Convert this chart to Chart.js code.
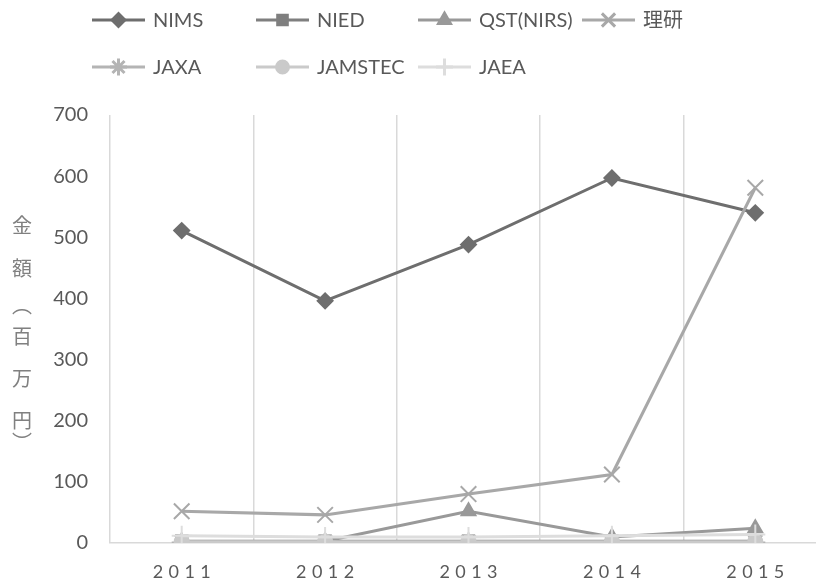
<!DOCTYPE html>
<html><head><meta charset="utf-8">
<script src="https://cdn.jsdelivr.net/npm/chart.js@4/dist/chart.umd.min.js"></script>
<style>
html,body{margin:0;padding:0;background:#fff;overflow:hidden;width:816px;height:583px;}
canvas{display:block;}
</style></head>
<body><canvas id="c" width="840" height="583" style="width:840px;height:583px"></canvas>
<script>
const years = ['2011','2012','2013','2014','2015'];
const seriesNames = ['NIMS','NIED','QST(NIRS)','理研','JAXA','JAMSTEC','JAEA'];
const nims    = [511, 396, 488, 597, 540];
const nied    = [3, 3, 3, 3, 3];
const qst     = [2, 3, 52, 10, 24];
const riken   = [52, 46, 80, 112, 581];
const jaxa    = [1, 1, 1, 1, 1];
const jamstec = [2, 2, 2, 2, 2];
const jaea    = [12, 10, 10, 12, 14];
const yTicks  = [0,100,200,300,400,500,600,700];
const yTitle  = ['金','額','︵','百','万','円','︶'];

const values = [nims, nied, qst, riken, jaxa, jamstec, jaea];
const colors = ['#6e6e6e','#7f7f7f','#999999','#a8a8a8','#b4b4b4','#cacaca','#dddddd'];
const styles = ['rectRot','rect','triangle','crossRot','star','circle','cross'];
const radii  = [7.5, 8, 8, 11, 10, 7, 10];

const datasets = values.map((v,i)=>({
  label: seriesNames[i], data: v,
  borderColor: colors[i], backgroundColor: colors[i],
  borderWidth: 3, pointStyle: styles[i], pointRadius: radii[i],
  pointBorderColor: colors[i], pointBackgroundColor: colors[i], pointBorderWidth: 2,
  order: -i, tension: 0
}));

const overlayPlugin = {
  id: 'overlay',
  afterDraw(chart){
    const ctx = chart.ctx;
    const colX = [92, 256, 418, 582];
    const rowY = [20, 67];
    const lineLen = 53;
    ctx.save();
    seriesNames.forEach((name,i)=>{
      const r = i < 4 ? 0 : 1;
      const c = i < 4 ? i : i - 4;
      const x = colX[c], y = rowY[r];
      ctx.strokeStyle = colors[i];
      ctx.lineWidth = 3;
      ctx.beginPath(); ctx.moveTo(x, y); ctx.lineTo(x+lineLen, y); ctx.stroke();
      ctx.fillStyle = colors[i];
      Chart.helpers.drawPoint(ctx, {pointStyle: styles[i], radius: radii[i]*0.85, borderWidth: 2, rotation: 0}, x+lineLen/2, y);
      ctx.fillStyle = '#595959';
      ctx.font = '20px Lato, "Noto Sans CJK JP", sans-serif';
      ctx.textBaseline = 'middle';
      ctx.textAlign = 'left';
      ctx.fillText(name, x+lineLen+8, y+1);
    });
    // y title (vertical)
    const ys = [225, 268, 305, 336, 378, 420, 442];
    ctx.fillStyle = '#808080';
    ctx.font = '20px "Noto Sans CJK JP", sans-serif';
    ctx.textAlign = 'center';
    ctx.textBaseline = 'middle';
    yTitle.forEach((ch,k)=>ctx.fillText(ch, 22, ys[k]));
    // x tick labels with letter spacing
    const xs = chart.scales.x;
    const sp = 5.4;
    ctx.font = '18px Lato, sans-serif';
    ctx.fillStyle = '#595959';
    ctx.textAlign = 'left';
    ctx.textBaseline = 'middle';
    years.forEach((lab,i)=>{
      const cx = xs.getPixelForTick(i);
      const widths = lab.split('').map(ch=>ctx.measureText(ch).width);
      const w = widths.reduce((a,b)=>a+b,0) + sp*(widths.length-1);
      let px = cx - w/2;
      lab.split('').forEach((ch,k)=>{ ctx.fillText(ch, px, 572); px += widths[k] + sp; });
    });
    ctx.restore();
  }
};

new Chart(document.getElementById('c'), {
  type: 'line',
  data: { labels: years, datasets },
  plugins: [overlayPlugin],
  options: {
    responsive: false, animation: false, devicePixelRatio: 1,
    layout: { padding: { top: 115, left: 0, right: 0, bottom: 0 } },
    plugins: { legend: { display: false }, tooltip: { enabled: false } },
    scales: {
      x: {
        offset: true,
        grid: { display: true, offset: true, color: '#d9d9d9', lineWidth: 1.5, drawTicks: false },
        border: { display: true, color: '#d9d9d9', width: 1.5 },
        ticks: { display: false },
        afterFit(s){ s.height = 40; }
      },
      y: {
        min: 0, max: 700,
        afterBuildTicks(s){ s.ticks = yTicks.map(v=>({value:v})); },
        grid: { display: false, drawTicks: false },
        border: { display: false },
        ticks: { color: '#595959', font: { family: 'Lato', size: 20 }, padding: 22 },
        afterFit(s){ s.width = 110; }
      }
    }
  }
});
</script></body></html>
